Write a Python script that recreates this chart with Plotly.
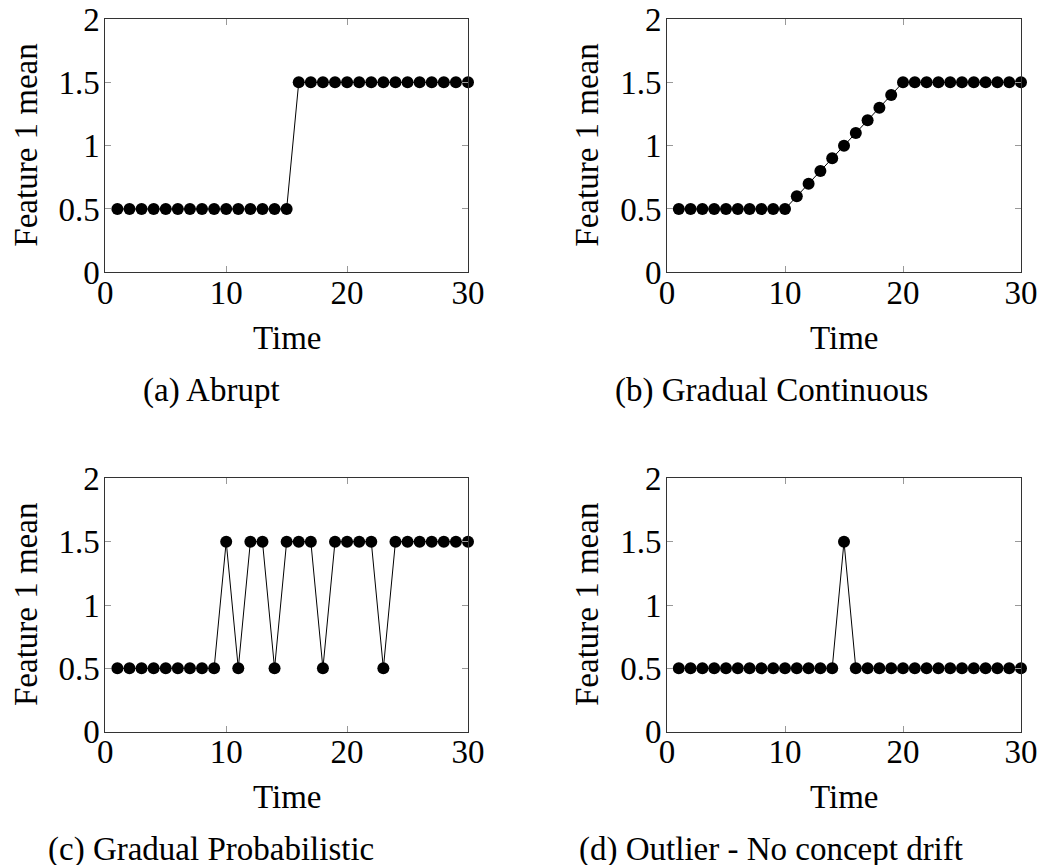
import plotly.graph_objects as go

time = list(range(1, 31))
abrupt = [0.5]*15 + [1.5]*15
gradual_cont = [0.5]*10 + [0.6, 0.7, 0.8, 0.9, 1.0, 1.1, 1.2, 1.3, 1.4] + [1.5]*11
gradual_prob = [0.5, 0.5, 0.5, 0.5, 0.5, 0.5, 0.5, 0.5, 0.5, 1.5,
                0.5, 1.5, 1.5, 0.5, 1.5, 1.5, 1.5, 0.5, 1.5, 1.5,
                1.5, 1.5, 0.5, 1.5, 1.5, 1.5, 1.5, 1.5, 1.5, 1.5]
outlier = [0.5]*14 + [1.5] + [0.5]*15

captions = ["(a) Abrupt", "(b) Gradual Continuous",
            "(c) Gradual Probabilistic", "(d) Outlier - No concept drift"]
x_ticks = [0, 10, 20, 30]
y_ticks = [0, 0.5, 1, 1.5, 2]
y_ticklabels = ["0", "0.5", "1", "1.5", "2"]
xlabel = "Time"
ylabel = "Feature 1 mean"

W, H = 1055, 865
OFF = 8  # page body margin
FONT = "Liberation Serif"
FS = 33

# panel pixel boxes in page coords (left, right, top, bottom)
boxes = [(105.3, 468, 19, 272.3), (667, 1021, 19, 272.3),
         (105.3, 468, 478.3, 731.7), (667, 1021, 478.3, 731.7)]
series = [abrupt, gradual_cont, gradual_prob, outlier]
cap_x = [211, 771, 211, 771]
ylab_x = [26, 587, 26, 587]


def px(v):
    return (v - OFF) / W


def py(v):
    return 1 - (v - OFF) / H


fig = go.Figure()
annotations = []
for i, (box, ys) in enumerate(zip(boxes, series)):
    l, r, t, b = box
    n = "" if i == 0 else str(i + 1)
    fig.add_trace(go.Scatter(
        x=time, y=ys, mode="lines+markers",
        line=dict(color="black", width=1),
        marker=dict(color="black", size=12),
        xaxis="x" + n, yaxis="y" + n, showlegend=False, cliponaxis=False))
    ax = dict(domain=[px(l), px(r)], range=[0, 30], tickvals=x_ticks,
              ticks="inside", ticklen=6, tickcolor="#999999",
              showline=True, linecolor="#333333", linewidth=1, mirror="ticks",
              showgrid=False, zeroline=False, automargin=False,
              ticklabelstandoff=-9, ticklabeloverflow="allow",
              tickfont=dict(family=FONT, size=FS, color="black"),
              anchor="y" + n)
    ay = dict(domain=[py(b), py(t)], range=[0, 2], tickvals=y_ticks,
              ticktext=y_ticklabels,
              ticks="inside", ticklen=6, tickcolor="#999999",
              showline=True, linecolor="#333333", linewidth=1, mirror="ticks",
              showgrid=False, zeroline=False, automargin=False,
              ticklabelstandoff=-2, ticklabeloverflow="allow",
              tickfont=dict(family=FONT, size=FS, color="black"),
              anchor="x" + n)
    fig.update_layout(**{"xaxis" + n: ax, "yaxis" + n: ay})
    annotations.append(dict(text=xlabel, x=px((l + r) / 2), y=py(t + 319),
                            xref="paper", yref="paper", showarrow=False,
                            xanchor="center", yanchor="middle",
                            font=dict(family=FONT, size=FS, color="black")))
    annotations.append(dict(text=ylabel, x=px(ylab_x[i]), y=py((t + b) / 2),
                            xref="paper", yref="paper", showarrow=False, textangle=-90,
                            xanchor="center", yanchor="middle",
                            font=dict(family=FONT, size=FS, color="black")))
    annotations.append(dict(text=captions[i], x=px(cap_x[i]), y=py(t + 371),
                            xref="paper", yref="paper", showarrow=False,
                            xanchor="center", yanchor="middle",
                            font=dict(family=FONT, size=FS, color="black")))

fig.update_layout(width=W, height=H, margin=dict(l=0, r=0, t=0, b=0),
                  paper_bgcolor="white", plot_bgcolor="white",
                  annotations=annotations)
fig.write_html("out.html")
